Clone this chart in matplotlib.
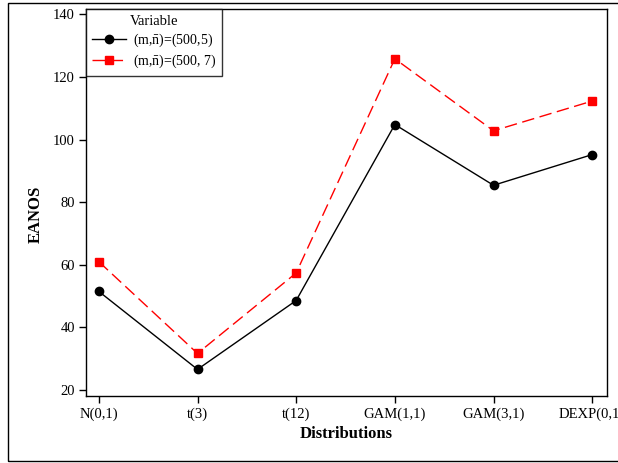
import matplotlib
matplotlib.use("Agg")
import matplotlib.pyplot as plt
from matplotlib.patches import Rectangle

categories = ["N(0,1)", "t(3)", "t(12)", "GAM(1,1)", "GAM(3,1)", "DEXP(0,1)"]
series_5 = [51.5, 26.6, 48.6, 104.8, 85.4, 95.2]
series_7 = [61.0, 31.7, 57.4, 125.8, 102.8, 112.3]
labels = [r"(m,$\bar{\mathrm{n}}$)=(500,5)", r"(m,$\bar{\mathrm{n}}$)=(500, 7)"]

plt.rcParams['font.family'] = ['Liberation Serif', 'DejaVu Serif']
plt.rcParams['mathtext.fontset'] = 'custom'
plt.rcParams['mathtext.rm'] = 'Liberation Serif'
plt.rcParams['mathtext.it'] = 'Liberation Serif:italic'
plt.rcParams['mathtext.bf'] = 'Liberation Serif:bold'

fig = plt.figure(figsize=(6.18, 4.63), dpi=100)
fig.patches.append(Rectangle((8/618, 2/463), 1.0, 458/463, transform=fig.transFigure,
                             fill=False, edgecolor='black', linewidth=1.0))
ax = fig.add_axes([86/618, 1-396/463, (607-86)/618, (396-9)/463])

x = list(range(len(categories)))
ax.plot(x, series_5, color='black', marker='o', markersize=6, linewidth=1.0, label=labels[0])
ax.plot(x, series_7, color='red', marker='s', markersize=6, linewidth=1.0,
        dashes=(9, 4), label=labels[1])

ax.set_xlim(-0.13, 5.15)
ax.set_ylim(18.1, 141.7)
ax.set_xticks(x)
ax.set_xticklabels(categories, fontsize=10.5)
ax.set_yticks([20, 40, 60, 80, 100, 120, 140])
ax.tick_params(axis='both', direction='out', length=5, width=1, labelsize=10.5, pad=3)
for s in ax.spines.values():
    s.set_linewidth(1.0)

ax.set_xlabel("Distributions", fontsize=12, fontweight='bold', labelpad=4)
ax.set_ylabel("EANOS", fontsize=12, fontweight='bold')
ax.yaxis.set_label_coords(-0.082, 0.47)

leg = ax.legend(title="Variable", loc='upper left', borderaxespad=0, fontsize=10,
                title_fontsize=10.5, frameon=True, fancybox=False, handlelength=2.4,
                handletextpad=0.5, borderpad=0.45, labelspacing=0.25)
leg.get_frame().set_edgecolor('black')
leg.get_frame().set_linewidth(1.0)

fig.savefig("out.png", dpi=100)
